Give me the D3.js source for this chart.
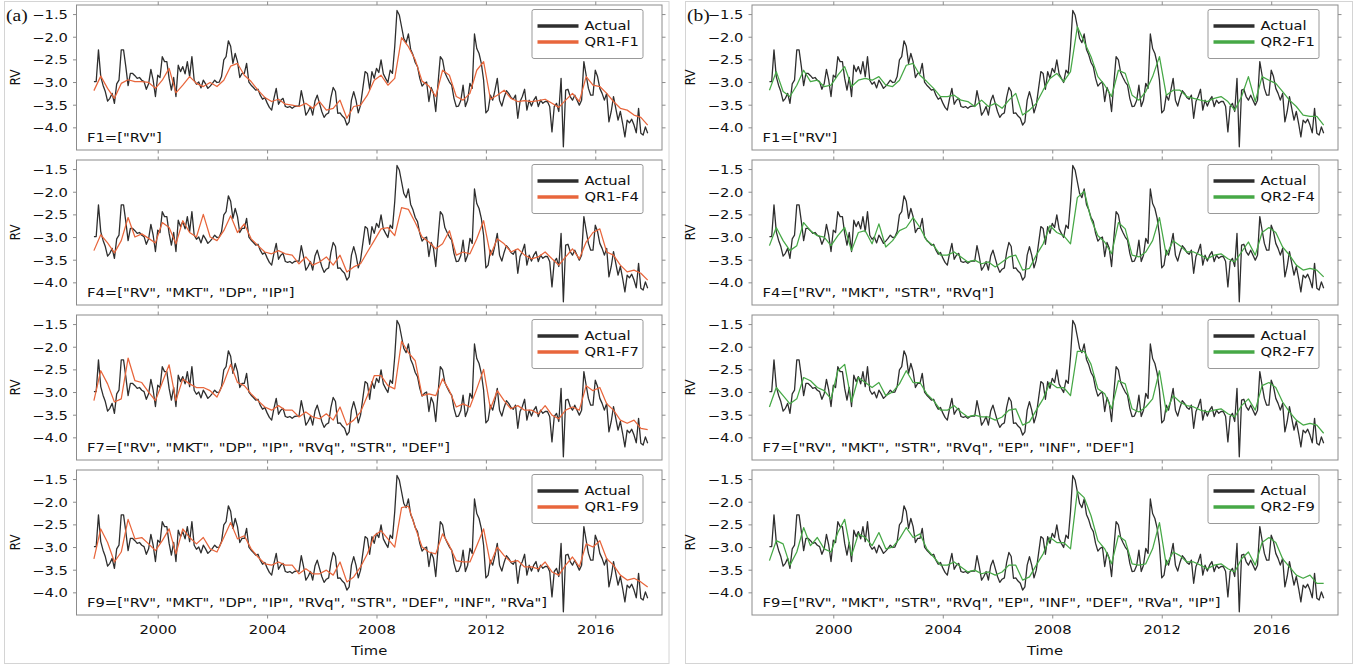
<!DOCTYPE html>
<html>
<head>
<meta charset="utf-8">
<script src="https://cdn.jsdelivr.net/npm/d3@7"></script>
<style>
  body { margin: 0; background: #fff; }
  text { font-family: "DejaVu Sans", sans-serif; fill: #111; }
</style>
</head>
<body>
<svg id="canvas" width="1356" height="666"></svg>
<script>
// monthly realized variance (log), Sep 1997 .. Dec 2017
const actual = [
  -2.99,-2.99,-2.29,-2.88,-3.07,-3.21,-3.42,-3.36,-3.25,-3.47,
  -3.04,-2.96,-2.29,-2.29,-2.66,-3.08,-2.81,-2.81,-2.86,-2.92,
  -2.90,-2.96,-2.99,-3.16,-3.04,-2.72,-2.96,-3.32,-2.85,-2.90,
  -2.44,-2.55,-2.55,-2.92,-3.18,-2.90,-3.32,-2.63,-2.77,-2.66,
  -2.82,-2.55,-2.88,-2.44,-2.96,-3.05,-3.00,-3.13,-2.96,-3.04,
  -3.14,-3.09,-3.03,-2.96,-3.01,-3.00,-2.88,-2.51,-2.44,-2.09,
  -2.21,-2.59,-2.37,-2.55,-2.90,-2.81,-2.81,-2.59,-3.00,-3.07,
  -3.12,-3.18,-3.16,-3.29,-3.38,-3.34,-3.46,-3.56,-3.62,-3.36,
  -3.14,-3.49,-3.40,-3.36,-3.54,-3.56,-3.54,-3.58,-3.54,-3.53,
  -3.53,-3.19,-3.43,-3.73,-3.65,-3.54,-3.73,-3.42,-3.29,-3.47,
  -3.65,-3.78,-3.71,-3.68,-3.34,-3.12,-3.21,-3.69,-3.68,-3.75,
  -3.80,-3.95,-3.88,-3.40,-3.21,-3.40,-3.68,-3.51,-3.14,-2.77,
  -2.81,-3.16,-2.77,-2.92,-2.70,-2.79,-2.51,-2.82,-2.92,-3.01,
  -2.74,-2.81,-2.22,-1.42,-1.52,-1.78,-2.04,-2.13,-1.94,-2.28,
  -2.40,-2.57,-2.66,-2.92,-3.09,-3.03,-3.00,-3.43,-3.12,-3.25,
  -3.65,-3.03,-2.44,-2.51,-2.79,-2.90,-3.00,-3.07,-3.36,-3.54,
  -3.53,-3.41,-3.07,-3.54,-3.40,-3.03,-3.14,-1.94,-2.26,-2.37,
  -2.59,-2.96,-3.68,-3.62,-3.29,-3.40,-3.18,-2.92,-3.40,-3.53,
  -3.34,-3.19,-3.25,-3.34,-3.38,-3.29,-3.80,-3.43,-3.32,-3.16,
  -3.62,-3.40,-3.53,-3.40,-3.32,-3.54,-3.40,-3.47,-3.43,-3.43,
  -3.54,-4.10,-3.54,-3.47,-3.65,-2.92,-4.43,-3.18,-3.16,-3.32,
  -3.40,-3.29,-3.40,-3.51,-3.40,-2.55,-2.85,-3.14,-3.29,-3.29,
  -2.74,-2.88,-3.14,-3.25,-3.40,-3.25,-3.88,-3.65,-3.32,-3.58,
  -3.84,-3.65,-3.91,-4.21,-3.84,-3.90,-3.82,-3.95,-4.12,-3.58,
  -4.13,-4.17,-3.99,-4.13
]

// forecasts, read every 3rd month from the same start
const qr1F1 = [
  -3.19,-2.87,-3.14,-3.36,-3.03,-2.95,-2.99,-2.99,-3.01,-3.14,
  -2.96,-2.70,-3.24,-3.07,-2.88,-3.03,-3.10,-3.01,-3.10,-2.96,
  -2.65,-2.59,-2.85,-2.99,-3.18,-3.34,-3.43,-3.38,-3.49,-3.51,
  -3.54,-3.47,-3.58,-3.43,-3.62,-3.58,-3.40,-3.80,-3.54,-3.51,
  -3.29,-2.96,-2.85,-3.07,-2.92,-2.02,-2.22,-2.51,-2.98,-3.09,
  -3.32,-2.74,-2.85,-3.32,-3.40,-3.25,-2.74,-2.55,-3.38,-3.29,
  -3.18,-3.36,-3.43,-3.41,-3.43,-3.41,-3.38,-3.47,-3.56,-3.40,
  -3.25,-3.43,-2.88,-3.07,-3.10,-3.25,-3.43,-3.58,-3.62,-3.73,
  -3.78,-3.95
]
const qr1F4 = [
  -3.30,-2.95,-3.13,-3.35,-3.08,-2.57,-3.00,-2.93,-3.03,-3.13,
  -2.68,-2.79,-3.15,-2.64,-2.90,-3.00,-2.50,-3.00,-3.08,-2.86,
  -2.53,-2.90,-2.71,-3.04,-3.19,-3.33,-3.37,-3.30,-3.37,-3.40,
  -3.59,-3.44,-3.62,-3.55,-3.44,-3.62,-3.40,-3.77,-3.66,-3.59,
  -3.33,-3.08,-2.82,-2.79,-2.97,-2.35,-2.39,-2.68,-3.00,-3.11,
  -3.26,-3.15,-2.86,-3.40,-3.33,-3.37,-3.04,-2.64,-3.40,-3.04,
  -3.15,-3.33,-3.26,-3.40,-3.48,-3.44,-3.33,-3.48,-3.62,-3.44,
  -3.26,-3.48,-3.11,-2.90,-2.82,-3.33,-3.40,-3.62,-3.77,-3.73,
  -3.80,-3.95
]
const qr1F7 = [
  -3.19,-2.53,-2.82,-3.22,-3.15,-2.25,-2.75,-2.79,-3.00,-3.19,
  -2.79,-2.40,-3.19,-2.71,-2.82,-2.90,-2.90,-2.97,-3.11,-2.79,
  -2.39,-2.79,-2.86,-3.04,-3.19,-3.33,-3.40,-3.30,-3.40,-3.40,
  -3.55,-3.44,-3.55,-3.59,-3.48,-3.62,-3.33,-3.73,-3.62,-3.44,
  -3.08,-2.64,-2.64,-2.86,-2.93,-1.88,-2.13,-2.31,-3.08,-3.04,
  -3.08,-2.71,-2.97,-3.33,-3.26,-3.33,-2.93,-2.50,-3.37,-2.97,
  -3.19,-3.37,-3.30,-3.40,-3.40,-3.48,-3.30,-3.51,-3.59,-3.40,
  -3.33,-3.40,-2.86,-2.97,-2.90,-3.26,-3.40,-3.62,-3.69,-3.62,
  -3.80,-3.83
]
const qr1F9 = [
  -3.26,-2.60,-2.90,-3.33,-3.11,-2.39,-2.82,-2.79,-2.93,-3.08,
  -2.86,-2.60,-3.15,-2.60,-2.79,-2.93,-2.79,-3.04,-3.11,-2.79,
  -2.46,-2.82,-2.75,-3.04,-3.22,-3.37,-3.40,-3.33,-3.40,-3.40,
  -3.59,-3.48,-3.59,-3.59,-3.51,-3.62,-3.33,-3.77,-3.66,-3.44,
  -3.15,-2.75,-2.64,-2.82,-3.00,-2.13,-2.10,-2.57,-3.00,-3.11,
  -3.15,-2.71,-2.97,-3.30,-3.33,-3.33,-2.97,-2.60,-3.37,-3.00,
  -3.19,-3.33,-3.30,-3.44,-3.44,-3.48,-3.33,-3.55,-3.62,-3.40,
  -3.22,-3.44,-2.93,-3.00,-2.86,-3.26,-3.40,-3.62,-3.73,-3.69,
  -3.77,-3.88
]
const qr2F1 = [
  -3.18,-2.77,-3.21,-3.32,-3.07,-2.74,-2.99,-2.96,-3.10,-3.07,
  -2.85,-2.66,-3.10,-2.96,-2.92,-2.96,-2.88,-3.07,-3.10,-2.96,
  -2.63,-2.59,-2.85,-2.99,-3.14,-3.32,-3.32,-3.29,-3.40,-3.43,
  -3.54,-3.40,-3.54,-3.47,-3.58,-3.40,-3.25,-3.73,-3.62,-3.47,
  -3.18,-2.92,-2.81,-2.99,-2.77,-1.78,-2.11,-2.44,-2.88,-3.07,
  -3.32,-2.74,-2.81,-3.29,-3.40,-3.21,-2.88,-2.44,-3.29,-3.18,
  -3.18,-3.32,-3.36,-3.40,-3.43,-3.36,-3.32,-3.43,-3.62,-3.32,
  -2.88,-3.43,-2.88,-2.96,-3.03,-3.21,-3.40,-3.54,-3.73,-3.76,
  -3.76,-3.95
]
const qr2F4 = [
  -3.19,-2.79,-3.08,-3.30,-3.19,-2.68,-2.86,-2.97,-3.00,-3.19,
  -2.97,-2.79,-3.30,-2.90,-2.86,-3.15,-2.71,-3.22,-3.08,-2.86,
  -2.79,-2.57,-2.79,-3.08,-3.19,-3.40,-3.40,-3.33,-3.44,-3.55,
  -3.51,-3.59,-3.55,-3.66,-3.55,-3.44,-3.40,-3.73,-3.69,-3.40,
  -3.15,-2.75,-2.90,-2.97,-3.15,-2.13,-1.99,-2.60,-2.97,-3.11,
  -3.37,-2.68,-2.82,-3.40,-3.44,-3.33,-3.08,-2.57,-3.40,-3.08,
  -3.19,-3.33,-3.33,-3.40,-3.48,-3.40,-3.37,-3.48,-3.55,-3.33,
  -3.11,-3.40,-2.90,-2.79,-2.90,-3.22,-3.40,-3.62,-3.73,-3.69,
  -3.73,-3.88
]
const qr2F7 = [
  -3.33,-2.90,-3.08,-3.26,-3.15,-2.68,-2.75,-2.90,-2.97,-3.15,
  -2.53,-2.39,-3.22,-2.68,-2.79,-2.90,-2.79,-3.08,-3.00,-2.82,
  -2.53,-2.79,-2.79,-3.04,-3.19,-3.40,-3.40,-3.30,-3.44,-3.55,
  -3.51,-3.55,-3.55,-3.62,-3.55,-3.40,-3.37,-3.73,-3.66,-3.40,
  -3.15,-2.79,-2.90,-2.90,-3.08,-2.10,-2.10,-2.39,-2.93,-3.04,
  -3.37,-2.75,-2.82,-3.37,-3.44,-3.33,-3.15,-2.53,-3.44,-3.08,
  -3.22,-3.30,-3.33,-3.40,-3.44,-3.40,-3.37,-3.48,-3.55,-3.30,
  -3.15,-3.40,-2.86,-2.79,-2.90,-3.22,-3.44,-3.62,-3.73,-3.69,
  -3.73,-3.91
]
const qr2F9 = [
  -3.30,-2.86,-2.93,-3.40,-3.11,-2.57,-2.97,-2.79,-3.04,-3.11,
  -2.68,-2.39,-3.19,-2.71,-2.79,-2.97,-2.68,-3.04,-3.00,-2.82,
  -2.57,-2.79,-2.71,-3.04,-3.22,-3.40,-3.40,-3.33,-3.44,-3.55,
  -3.51,-3.59,-3.55,-3.62,-3.55,-3.40,-3.40,-3.73,-3.66,-3.40,
  -3.15,-2.79,-2.90,-2.90,-3.04,-1.77,-1.91,-2.31,-2.86,-3.04,
  -3.37,-2.75,-2.86,-3.37,-3.40,-3.37,-3.04,-2.46,-3.40,-3.11,
  -3.19,-3.33,-3.33,-3.40,-3.48,-3.40,-3.37,-3.48,-3.55,-3.26,
  -3.11,-3.40,-2.90,-2.79,-2.90,-3.26,-3.44,-3.62,-3.69,-3.62,
  -3.80,-3.80
]

const leftPreds = [qr1F1, qr1F4, qr1F7, qr1F9]
const rightPreds = [qr2F1, qr2F4, qr2F7, qr2F9]
const leftNames = ["QR1-F1", "QR1-F4", "QR1-F7", "QR1-F9"]
const rightNames = ["QR2-F1", "QR2-F4", "QR2-F7", "QR2-F9"]
const leftSets = [
  'F1=["RV"]',
  'F4=["RV", "MKT", "DP", "IP"]',
  'F7=["RV", "MKT", "DP", "IP", "RVq", "STR", "DEF"]',
  'F9=["RV", "MKT", "DP", "IP", "RVq", "STR", "DEF", "INF", "RVa"]'
]
const rightSets = [
  'F1=["RV"]',
  'F4=["RV", "MKT", "STR", "RVq"]',
  'F7=["RV", "MKT", "STR", "RVq", "EP", "INF", "DEF"]',
  'F9=["RV", "MKT", "STR", "RVq", "EP", "INF", "DEF", "RVa", "IP"]'
]
const yTicks = [-1.5, -2.0, -2.5, -3.0, -3.5, -4.0]
const xTicks = [2000, 2004, 2008, 2012, 2016]
const startYear = 1997, startMonth = 8, predStep = 3

const SX = 1.22            // the figure is a bit stretched sideways
const fs = 12.1
const colActual = "#2e2e2e"
const colQR1 = "#e8663c"
const colQR2 = "#46a846"
const frameCol = "#8c8c8c"

const svg = d3.select("#canvas")
const cols = [{x0: 76.5, x1: 662}, {x0: 752, x1: 1338}]
const rowTop = [5, 160, 315, 470], ph = 145
const xDomain = [1997.03, 2018.44]
const yDomain = [-4.5, -1.3]

const toT = (i) => startYear + (startMonth + i) / 12
const actualPts = actual.map((v, i) => ({t: toT(i), v}))

function txt(g, x, y, s, opt = {}) {
  return g.append("text")
    .attr("transform", `translate(${x},${y}) scale(${SX},1)` + (opt.rot ? ` rotate(${opt.rot})` : ""))
    .attr("text-anchor", opt.anchor || "start")
    .style("font-size", (opt.size || fs) + "px")
    .style("font-family", opt.family || null)
    .text(s)
}

// light sub-figure borders
svg.append("rect").attr("x", 4.5).attr("y", 1.5).attr("width", 664.5).attr("height", 662)
  .attr("fill", "none").attr("stroke", "#d4d4d4")
svg.append("rect").attr("x", 685.5).attr("y", 1.5).attr("width", 667).attr("height", 662)
  .attr("fill", "none").attr("stroke", "#d4d4d4")

txt(svg, 6, 21, "(a)", {size: 16, family: "Liberation Serif"})
txt(svg, 687, 21, "(b)", {size: 16, family: "Liberation Serif"})

cols.forEach((c, ci) => {
  const preds = ci === 0 ? leftPreds : rightPreds
  const names = ci === 0 ? leftNames : rightNames
  const sets = ci === 0 ? leftSets : rightSets
  const pcol = ci === 0 ? colQR1 : colQR2
  const x = d3.scaleLinear().domain(xDomain).range([c.x0, c.x1])

  rowTop.forEach((top, r) => {
    const y = d3.scaleLinear().domain(yDomain).range([top + ph, top])
    const g = svg.append("g")
    const clipId = `clip${ci}${r}`
    g.append("clipPath").attr("id", clipId).append("rect")
      .attr("x", c.x0).attr("y", top).attr("width", c.x1 - c.x0).attr("height", ph)

    const line = d3.line().x(d => x(d.t)).y(d => y(d.v))
    const predPts = preds[r].map((v, k) => ({t: toT(k * predStep), v}))

    const lines = g.append("g").attr("clip-path", `url(#${clipId})`)
    lines.append("path").datum(actualPts).attr("d", line)
      .attr("fill", "none").attr("stroke", colActual).attr("stroke-width", 1.3)
      .attr("stroke-linejoin", "round")
    lines.append("path").datum(predPts).attr("d", line)
      .attr("fill", "none").attr("stroke", pcol).attr("stroke-width", 1.25)
      .attr("stroke-linejoin", "round")

    // axes: ticks out on all four sides, labels left and on the bottom row
    const ya = g.append("g").attr("transform", `translate(${c.x0},0)`)
      .call(d3.axisLeft(y).tickValues(yTicks).tickSize(3.5).tickPadding(3.5).tickFormat(d3.format(".1f")))
    const yr = g.append("g").attr("transform", `translate(${c.x1},0)`)
      .call(d3.axisRight(y).tickValues(yTicks).tickSize(3.5).tickFormat(""))
    const xa = g.append("g").attr("transform", `translate(0,${top + ph})`)
      .call(d3.axisBottom(x).tickValues(xTicks).tickSize(3.5).tickPadding(6.5)
        .tickFormat(r === 3 ? d3.format("d") : ""))
    const xt = g.append("g").attr("transform", `translate(0,${top})`)
      .call(d3.axisTop(x).tickValues(xTicks).tickSize(3.5).tickFormat(""))
    ;[ya, yr, xa, xt].forEach(a => {
      a.select(".domain").remove()
      a.selectAll("line").attr("stroke", frameCol)
      a.selectAll("text").style("font-size", fs + "px").attr("fill", "#111")
        .attr("font-family", "DejaVu Sans")
        .attr("transform", `scale(${SX},1)`)
    })
    ya.selectAll("text").attr("dy", "0.36em")

    g.append("rect").attr("x", c.x0).attr("y", top).attr("width", c.x1 - c.x0).attr("height", ph)
      .attr("fill", "none").attr("stroke", frameCol).attr("stroke-width", 1)

    txt(g, c.x0 - 57, top + ph / 2, "RV", {rot: -90, anchor: "middle"})
    txt(g, c.x0 + 10.5, top + ph - 8, sets[r])

    // legend
    const lx = c.x1 - 130, ly = top + 4.5
    g.append("rect").attr("x", lx).attr("y", ly).attr("width", 111).attr("height", 49)
      .attr("rx", 2).attr("fill", "#fff").attr("stroke", "#999")
    const leg = [{n: "Actual", c: colActual}, {n: names[r], c: pcol}]
    leg.forEach((e, k) => {
      const yy = ly + 16.5 + k * 16
      g.append("line").attr("x1", lx + 5.5).attr("x2", lx + 46.5).attr("y1", yy).attr("y2", yy)
        .attr("stroke", e.c).attr("stroke-width", 3.5)
      txt(g, lx + 52.5, yy + 4.3, e.n)
    })
  })

  txt(svg, (c.x0 + c.x1) / 2, 655, "Time", {anchor: "middle"})
})
</script>
</body>
</html>
